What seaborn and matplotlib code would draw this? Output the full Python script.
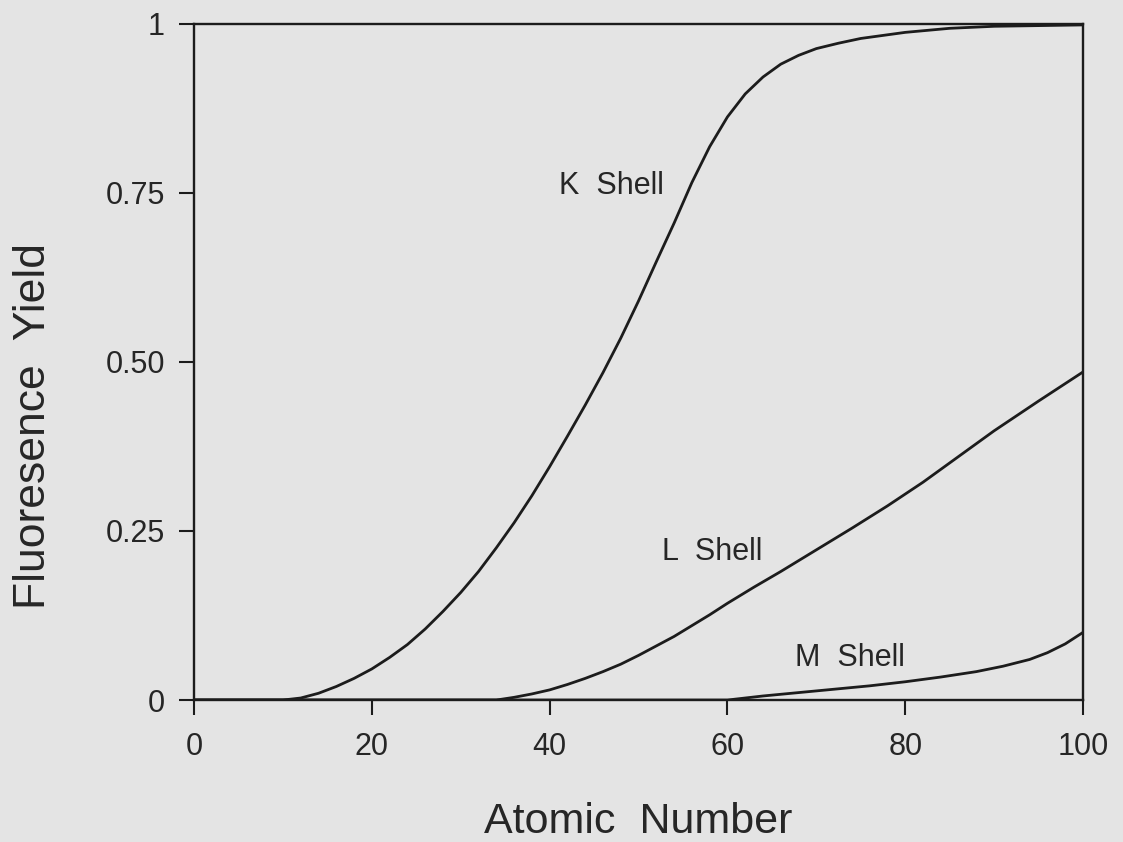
import numpy as np
import pandas as pd
import matplotlib
matplotlib.use("Agg")
import matplotlib.pyplot as plt
import seaborn as sns

# Data
k_z = [0, 10, 12, 14, 16, 18, 20, 22, 24, 26, 28, 30, 32, 34, 36, 38, 40, 42, 44, 46, 48, 50,
       52, 54, 56, 58, 60, 62, 64, 66, 68, 70, 72.5, 75, 80, 85, 90, 100]
k_y = [0, 0, 0.003, 0.010, 0.020, 0.032, 0.046, 0.063, 0.082, 0.105, 0.131, 0.159, 0.19, 0.225,
       0.262, 0.302, 0.345, 0.39, 0.436, 0.484, 0.535, 0.59, 0.648, 0.705, 0.765, 0.818, 0.862,
       0.896, 0.921, 0.94, 0.953, 0.963, 0.971, 0.978, 0.987, 0.993, 0.996, 0.998]
l_z = [0, 34, 36, 38, 40, 42, 44, 46, 48, 50, 52, 54, 56, 58, 60, 63, 66, 70, 74, 78, 82, 86,
       90, 95, 100]
l_y = [0, 0, 0.004, 0.009, 0.015, 0.023, 0.032, 0.042, 0.053, 0.066, 0.08, 0.094, 0.11, 0.126,
       0.143, 0.167, 0.19, 0.222, 0.254, 0.287, 0.322, 0.36, 0.398, 0.442, 0.485]
m_z = [0, 60, 62, 64, 68, 72, 76, 80, 84, 88, 91, 94, 96, 98, 100]
m_y = [0, 0, 0.003, 0.006, 0.011, 0.016, 0.021, 0.027, 0.034, 0.042, 0.05, 0.06, 0.07, 0.083, 0.10]

shells = ["K Shell", "L Shell", "M Shell"]
label_pos = [(47.0, 0.76), (58.3, 0.219), (73.8, 0.062)]
x_ticks = [0, 20, 40, 60, 80, 100]
y_ticks = [0, 0.25, 0.5, 0.75, 1]
y_tick_labels = ["0", "0.25", "0.50", "0.75", "1"]

frames = []
for name, zs, ys in zip(shells, [k_z, l_z, m_z], [k_y, l_y, m_y]):
    frames.append(pd.DataFrame({"Z": zs, "yield": ys, "shell": name}))
df = pd.concat(frames, ignore_index=True)

sns.set_theme(style="ticks")
bg = "#e4e4e4"
ink = "#1c1c1c"
plt.rcParams["font.family"] = ["Liberation Sans", "DejaVu Sans"]

fig = plt.figure(figsize=(11.23, 8.42), dpi=100, facecolor=bg)
ax = fig.add_axes([0.1728, 0.1686, 0.9644 - 0.1728, 0.972 - 0.1686])
ax.set_facecolor(bg)

sns.lineplot(data=df, x="Z", y="yield", hue="shell", palette=[ink] * 3,
             linewidth=2.0, legend=False, ax=ax, estimator=None, sort=True)

for name, (lx, ly) in zip(shells, label_pos):
    ax.text(lx, ly, name.replace(" ", "  "), fontsize=22, color="#262626",
            ha="center", va="center")

ax.set_xlim(0, 100)
ax.set_ylim(0, 1)
ax.set_xticks(x_ticks)
ax.set_xticklabels([str(t) for t in x_ticks])
ax.set_yticks(y_ticks)
ax.set_yticklabels(y_tick_labels)
ax.tick_params(axis="both", direction="out", length=11, width=1.5, color=ink,
               labelsize=22, labelcolor="#262626")
ax.tick_params(axis="x", pad=12)
ax.tick_params(axis="y", pad=10)
for s in ax.spines.values():
    s.set_linewidth(1.7)
    s.set_color(ink)

ax.set_xlabel("Atomic  Number", fontsize=31, color="#262626")
ax.set_ylabel("Fluoresence  Yield", fontsize=32, color="#262626")
ax.xaxis.set_label_coords(0.5, -0.15)
ax.yaxis.set_label_coords(-0.158, 0.405)

fig.savefig("out.png", dpi=100, facecolor=bg)
